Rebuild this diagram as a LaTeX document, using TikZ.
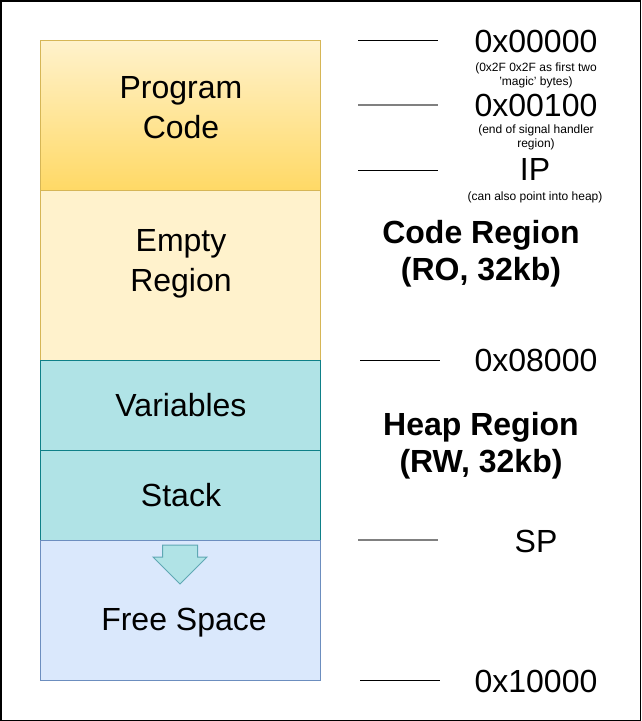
\documentclass[tikz,border=0pt]{standalone}
\usepackage{fontspec}
\setmainfont{Liberation Sans}
\definecolor{codetop}{HTML}{FFF2CC}
\definecolor{codebot}{HTML}{FFD966}
\definecolor{codeline}{HTML}{D6B656}
\definecolor{heapfill}{HTML}{B0E3E6}
\definecolor{heapline}{HTML}{0E8088}
\definecolor{freefill}{HTML}{DAE8FC}
\definecolor{freeline}{HTML}{6C8EBF}
\definecolor{arrline}{HTML}{5FA8B4}
\definecolor{markgray}{HTML}{808080}
\begin{document}
\begin{tikzpicture}[x=1pt,y=-1pt,
  region/.style={draw,line width=0.8pt,minimum width=280pt,inner sep=0pt,outer sep=0pt,anchor=north west},
  big/.style={font=\fontsize{32}{40}\selectfont,align=center,anchor=base,inner sep=0pt},
  bold/.style={font=\fontsize{32}{37}\selectfont\bfseries,align=center,anchor=base,inner sep=0pt},
  note/.style={font=\fontsize{12}{14}\selectfont,align=center,anchor=base,inner sep=0pt}]
\useasboundingbox (0,0) rectangle (641,721);
\draw[line width=1.5pt] (0.75,0.75) rectangle (640.25,720.25);
% memory blocks
\node[region,draw=codeline,top color=codetop,bottom color=codebot,minimum height=150pt] (code) at (40,40) {};
\node[region,draw=codeline,fill=codetop,minimum height=170pt] (empty) at (40,190) {};
\node[region,draw=heapline,fill=heapfill,minimum height=90pt] (vars) at (40,360) {};
\node[region,draw=heapline,fill=heapfill,minimum height=90pt] (stack) at (40,450) {};
\node[region,draw=freeline,fill=freefill,minimum height=140pt] (free) at (40,540) {};
\filldraw[draw=arrline,fill=heapfill,line width=1pt] (162.5,545) -- (197.5,545) -- (197.5,557) -- (207,557)
  -- (180,584) -- (153,557) -- (162.5,557) -- cycle;
% base anchor = baseline of the last line
\node[big] (codetxt) at (181,138) {Program\\Code};
\node[big] (emptytxt) at (181,291.7) {Empty\\Region};
\node[big] (varstxt) at (181,416.7) {Variables};
\node[big] (stacktxt) at (181,506.7) {Stack};
\node[big] (freetxt) at (184,630) {Free Space};
% address marks
\foreach \y/\c/\w in {40/black/1,105/markgray/1.6,170/black/1,540/markgray/1.6}
  \draw[\c,line width=\w pt] (358,\y) -- ++(80,0);
\foreach \y in {360,680}
  \draw[line width=1pt] (360,\y) -- ++(80,0);
\node[big] (a0) at (536,52.5) {0x00000};
\node[note] (a0note) at (536,85.5) {(0x2F 0x2F as first two\\'magic' bytes)};
\node[big] (a1) at (536,116.5) {0x00100};
\node[note] (a1note) at (536,147.5) {(end of signal handler\\region)};
\node[big] (ip) at (535,180.5) {IP};
\node[note] (ipnote) at (535,200.5) {(can also point into heap)};
\node[bold] (coderg) at (481,280.3) {Code Region\\(RO, 32kb)};
\node[big] (a2) at (536,371.5) {0x08000};
\node[bold] (heaprg) at (481,472.7) {Heap Region\\(RW, 32kb)};
\node[big] (sp) at (536,552.5) {SP};
\node[big] (a3) at (536,692.5) {0x10000};
\end{tikzpicture}
\end{document}
